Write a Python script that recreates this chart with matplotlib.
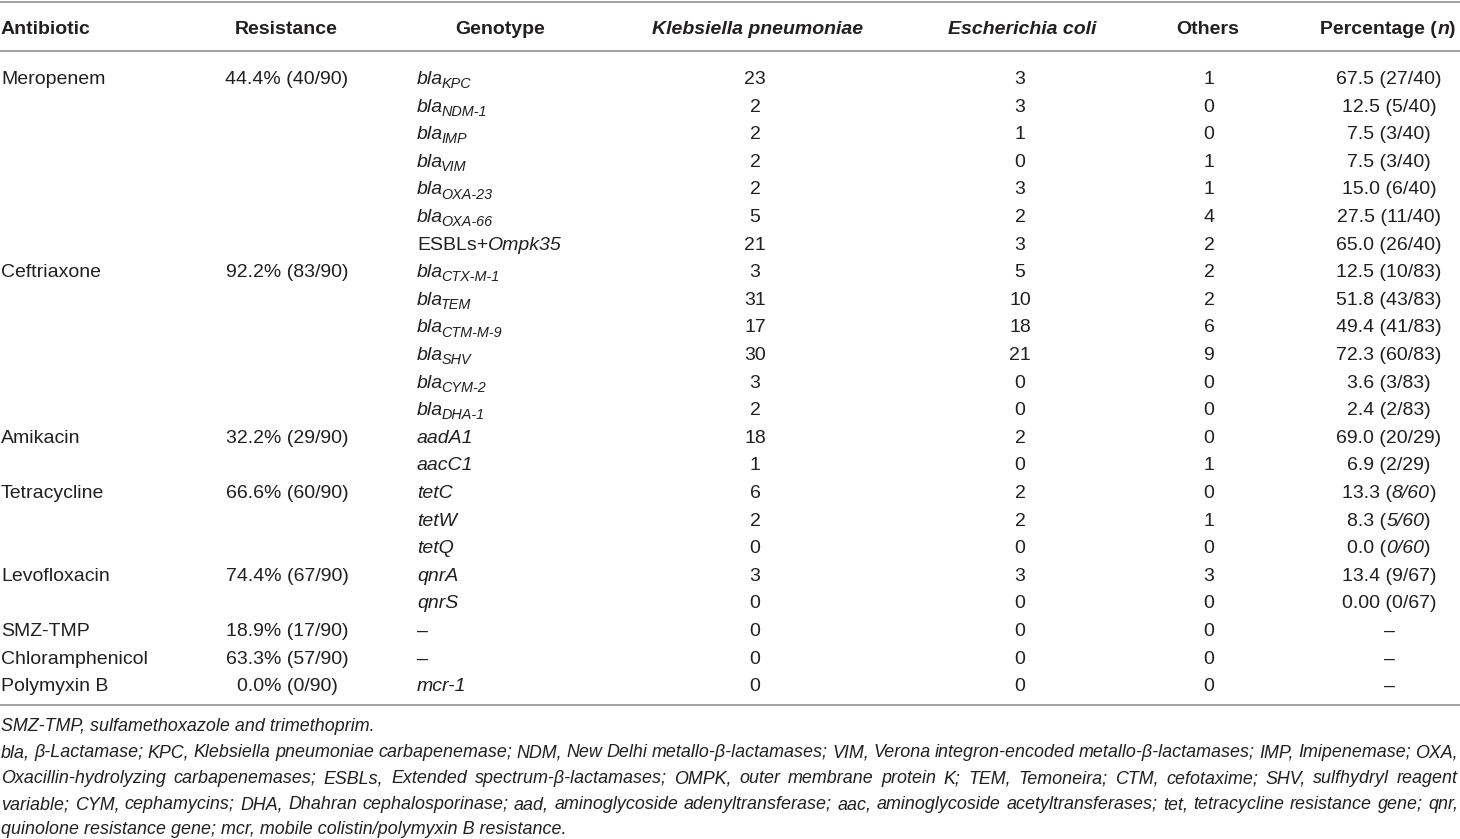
import matplotlib
matplotlib.use("Agg")
import matplotlib.pyplot as plt

plt.rcParams['font.family'] = ['Liberation Sans', 'DejaVu Sans']

# table content
headers = ["Antibiotic", "Resistance", "Genotype", "*Klebsiella pneumoniae*",
           "*Escherichia coli*", "Others", "Percentage (*n*)"]

antibiotics = ["Meropenem", "Ceftriaxone", "Amikacin", "Tetracycline",
               "Levofloxacin", "SMZ-TMP", "Chloramphenicol", "Polymyxin B"]
resistance = ["44.4% (40/90)", "92.2% (83/90)", "32.2% (29/90)", "66.6% (60/90)",
              "74.4% (67/90)", "18.9% (17/90)", "63.3% (57/90)", "0.0% (0/90)"]
genes_per_drug = [7, 6, 2, 3, 2, 1, 1, 1]

genotypes = ["bla|KPC", "bla|NDM-1", "bla|IMP", "bla|VIM", "bla|OXA-23", "bla|OXA-66",
             "ESBLs+Ompk35",
             "bla|CTX-M-1", "bla|TEM", "bla|CTM-M-9", "bla|SHV", "bla|CYM-2", "bla|DHA-1",
             "aadA1", "aacC1",
             "tetC", "tetW", "tetQ",
             "qnrA", "qnrS",
             "–", "–", "mcr-1"]
klebsiella = [23, 2, 2, 2, 2, 5, 21, 3, 31, 17, 30, 3, 2, 18, 1, 6, 2, 0, 3, 0, 0, 0, 0]
ecoli = [3, 3, 1, 0, 3, 2, 3, 5, 10, 18, 21, 0, 0, 2, 0, 2, 2, 0, 3, 0, 0, 0, 0]
others = [1, 0, 0, 1, 1, 4, 2, 2, 2, 6, 9, 0, 0, 0, 1, 0, 1, 0, 3, 0, 0, 0, 0]
percentage = ["67.5 (27/40)", "12.5 (5/40)", "7.5 (3/40)", "7.5 (3/40)", "15.0 (6/40)",
              "27.5 (11/40)", "65.0 (26/40)",
              "12.5 (10/83)", "51.8 (43/83)", "49.4 (41/83)", "72.3 (60/83)",
              "3.6 (3/83)", "2.4 (2/83)",
              "69.0 (20/29)", "6.9 (2/29)",
              "13.3 (*8/60*)", "8.3 (*5/60*)", "0.0 (*0/60*)",
              "13.4 (9/67)", "0.00 (0/67)",
              "–", "–", "–"]

note_first = "SMZ-TMP, sulfamethoxazole and trimethoprim."
note_lines = [
    "bla, β-Lactamase; KPC, Klebsiella pneumoniae carbapenemase; NDM, New Delhi metallo-β-lactamases; "
    "VIM, Verona integron-encoded metallo-β-lactamases; IMP, Imipenemase; OXA,",
    "Oxacillin-hydrolyzing carbapenemases; ESBLs, Extended spectrum-β-lactamases; OMPK, outer membrane "
    "protein K; TEM, Temoneira; CTM, cefotaxime; SHV, sulfhydryl reagent",
    "variable; CYM, cephamycins; DHA, Dhahran cephalosporinase; aad, aminoglycoside adenyltransferase; "
    "aac, aminoglycoside acetyltransferases; tet, tetracycline resistance gene; qnr,",
    "quinolone resistance gene; mcr, mobile colistin/polymyxin B resistance.",
]

W, H = 1460, 839
TEXT = '#231f20'
RULE = '#9b9b9b'
FS = 14.0          # body size in pt (dpi 100)
NOTE_FS = 14.0

fig = plt.figure(figsize=(W / 100, H / 100), dpi=100)
ax = fig.add_axes([0, 0, 1, 1])
ax.set_xlim(0, W)
ax.set_ylim(H, 0)
ax.axis('off')
renderer = fig.canvas.get_renderer()


def width_of(t):
    return t.get_window_extent(renderer).width


def starred(s, weight='normal'):
    # '*' toggles italic
    runs = []
    for i, part in enumerate(s.split('*')):
        if part:
            runs.append((part, weight, 'italic' if i % 2 else 'normal', 1.0, 0.0, 0.0))
    return runs


def genotype_runs(g):
    if '|' in g:
        base, sub = g.split('|')
        return [(base, 'normal', 'italic', 1.0, 0.0, 0.0),
                (sub, 'normal', 'italic', 0.74, 4.2, -2.0)]
    if g == '–':
        return [(g, 'normal', 'normal', 1.0, 0.0, 0.0)]
    if '+' in g:
        a, b = g.split('+')
        return [(a + '+', 'normal', 'normal', 1.0, 0.0, 0.0),
                (b, 'normal', 'italic', 1.0, 0.0, 0.0)]
    return [(g, 'normal', 'italic', 1.0, 0.0, 0.0)]


def plain(s):
    return [(s, 'normal', 'normal', 1.0, 0.0, 0.0)]


def draw_runs(x, yc, runs, align='left', size=FS):
    base = yc + 0.36 * size * 100 / 72   # baseline from row centre
    texts = []
    total = 0
    for txt, weight, style, scale, dy, dx in runs:
        t = ax.text(0, base + dy, txt, fontsize=size * scale, fontweight=weight,
                    fontstyle=style, color=TEXT, va='baseline', ha='left')
        w = width_of(t)
        texts.append((t, w, dx))
        total += w + dx
    if align == 'center':
        x0 = x - total / 2
    elif align == 'right':
        x0 = x - total
    else:
        x0 = x
    for t, w, dx in texts:
        x0 += dx
        t.set_x(x0)
        x0 += w


# rules
for y in (1.5, 51, 705):
    ax.axhline(y, color=RULE, lw=1.3)

# header
head_x = [1, 286, 500, 758, 1022, 1208, 1388]
head_align = ['left', 'center', 'center', 'center', 'center', 'center', 'center']
for h, x, a in zip(headers, head_x, head_align):
    draw_runs(x, 27, starred(h, 'bold'), a)

# body
row0, pitch = 77, 27.6
row = 0
for drug, res, n in zip(antibiotics, resistance, genes_per_drug):
    y = row0 + row * pitch
    draw_runs(1, y, plain(drug))
    draw_runs(287, y, plain(res), 'center')
    row += n

for i in range(len(genotypes)):
    y = row0 + i * pitch
    draw_runs(417, y, genotype_runs(genotypes[i]))
    draw_runs(755, y, plain(str(klebsiella[i])), 'center')
    draw_runs(1020, y, plain(str(ecoli[i])), 'center')
    draw_runs(1209, y, plain(str(others[i])), 'center')
    draw_runs(1389, y, starred(percentage[i]), 'center')

# footnotes, justified to the table width
right = 1458


def measure_words(words, size):
    out = []
    for wd in words:
        t = ax.text(0, 0, wd, fontsize=size, fontstyle='italic', color=TEXT)
        out.append(width_of(t))
        t.remove()
    return out


space = 0.278 * NOTE_FS * 100 / 72
fit = 1.0
for line in note_lines[:-1]:
    words = line.split(' ')
    ws = measure_words(words, NOTE_FS)
    natural = sum(ws) + space * 0.9 * (len(words) - 1)
    fit = min(fit, right / natural)
note_size = NOTE_FS * fit

note_y = [725, 751, 777, 803, 828]
draw_runs(1, note_y[0], [(note_first, 'normal', 'italic', 1.0, 0.0, 0.0)], size=note_size)
for k, line in enumerate(note_lines):
    y = note_y[k + 1]
    if k == len(note_lines) - 1:
        draw_runs(1, y, [(line, 'normal', 'italic', 1.0, 0.0, 0.0)], size=note_size)
        continue
    words = line.split(' ')
    ws = measure_words(words, note_size)
    gap = (right - 1 - sum(ws)) / (len(words) - 1)
    x = 1
    base = y + 0.36 * note_size * 100 / 72
    for wd, w in zip(words, ws):
        ax.text(x, base, wd, fontsize=note_size, fontstyle='italic', color=TEXT,
                va='baseline', ha='left')
        x += w + gap

fig.savefig('out.png', dpi=100)
